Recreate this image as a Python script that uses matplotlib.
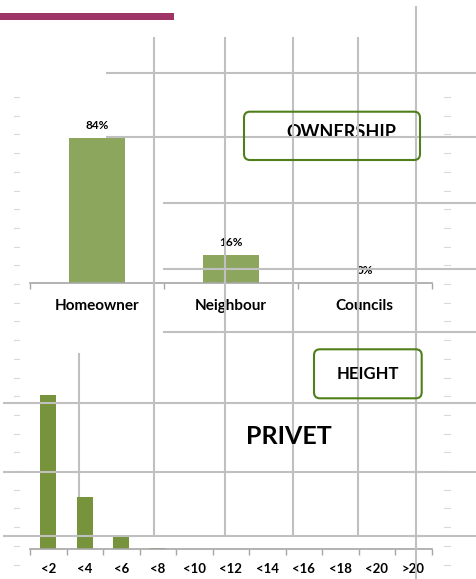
import numpy as np
import matplotlib
matplotlib.use("Agg")
import matplotlib.pyplot as plt
from matplotlib.patches import FancyBboxPatch, Rectangle

plt.rcParams['font.family'] = ['Lato', 'DejaVu Sans']

# Ownership chart (percent)
owners = ["Homeowner", "Neighbour", "Councils"]
owner_pct = [84, 16, 0]

# Privet height chart (percent of hedges per height band)
heights = ["<2", "<4", "<6", "<8", "<10", "<12", "<14", "<16", "<18", "<20", ">20"]
height_pct = [70.1, 23.6, 5.7, 0.6, 0, 0, 0, 0, 0, 0, 0]

W, H = 477, 579
fig = plt.figure(figsize=(W / 100, H / 100), dpi=100)
fig.patch.set_facecolor("white")

GRID = "#c0c0c0"
AXIS = "#a6a6a6"


def px_axes(x0, y0, x1, y1):
    """axes placed by pixel box (top-left origin)"""
    return fig.add_axes([x0 / W, 1 - y1 / H, (x1 - x0) / W, (y1 - y0) / H])


def style_cat_axis(ax, labels, pad, size):
    n = len(labels)
    ax.set_xlim(-0.5, n - 0.5)
    for s in ["top", "right", "left"]:
        ax.spines[s].set_visible(False)
    ax.spines["bottom"].set_color(AXIS)
    ax.spines["bottom"].set_linewidth(1.2)
    ax.set_yticks([])
    ax.set_xticks(range(n))
    ax.set_xticklabels(labels, fontsize=size, fontweight="bold")
    ax.set_xticks(np.arange(-0.5, n), minor=True)
    ax.tick_params(axis="x", which="major", length=0, pad=pad)
    ax.tick_params(axis="x", which="minor", length=4, color=AXIS, width=1)
    ax.set_facecolor("none")


# --- ownership bars
ax1 = px_axes(30, 97, 431.7, 282.7)
ax1.bar(range(len(owners)), owner_pct, width=0.42, color="#8da65e", zorder=2)
ax1.set_ylim(0, (282.7 - 97) / 1.72)
style_cat_axis(ax1, owners, 12, 11)
for i, v in enumerate(owner_pct):
    ax1.annotate(f"{v}%", (i, v), xytext=(0, 5), textcoords="offset points",
                 ha="center", va="bottom", fontsize=8.5, fontweight="bold")

# --- height bars
top2 = 345
ax2 = px_axes(30, top2, 431.7, 549.3)
ax2.bar(range(len(heights)), height_pct, width=0.44, color="#77933c", zorder=2)
ax2.set_ylim(0, (549.3 - top2) / 2.2)
style_cat_axis(ax2, heights, 10, 9.5)
# stray grid line that sits behind the <4 bar
ax2.axvline(0.84, ymax=(549.3 - 354) / (549.3 - top2), color=GRID, lw=1.5, zorder=1)

# --- overlay in pixel coordinates
ov = fig.add_axes([0, 0, 1, 1])
ov.set_xlim(0, W)
ov.set_ylim(H, 0)
ov.axis("off")
ov.patch.set_visible(False)

ov.add_patch(Rectangle((0, 13), 174, 7, color="#9e3566", lw=0))

# faint tick dashes on both margins
for yy in np.arange(97, 570, 18.7):
    ov.plot([14, 19], [yy, yy], color="#d9d9d9", lw=0.8)
    ov.plot([444, 450], [yy, yy], color="#d9d9d9", lw=0.8)

# ownership label box (text partly masked below the line)
ov.text(341, 133, "OWNERSHIP", ha="center", va="center", fontsize=13,
        fontweight="bold", zorder=1)
ov.add_patch(Rectangle((250, 137.5), 164, 12, color="white", lw=0, zorder=1.5))
ov.add_patch(FancyBboxPatch((244, 111.7), 176, 48.3, boxstyle="round,pad=0,rounding_size=6",
                            fill=False, ec="#4f7f1a", lw=1.5, zorder=3))

# grid lines
vlines = [(154, 37, 536), (225, 37, 536), (293, 37, 536), (358, 37, 536), (416, 6, 579)]
hlines = [(73, 106), (137, 106), (202.7, 163), (268.7, 163), (332, 163),
          (403, 3), (471.7, 3), (536, 3)]
for x, y0, y1 in vlines:
    ov.plot([x, x], [y0, y1], color=GRID, lw=1.5, zorder=2, solid_capstyle="butt")
for y, x0 in hlines:
    ov.plot([x0, W], [y, y], color=GRID, lw=1.5, zorder=2, solid_capstyle="butt")

ov.add_patch(FancyBboxPatch((314, 349.3), 107.7, 49, boxstyle="round,pad=0,rounding_size=6",
                            fill=False, ec="#4f7f1a", lw=1.5, zorder=3))
ov.text(368, 374, "HEIGHT", ha="center", va="center", fontsize=12,
        fontweight="bold", zorder=3)
ov.text(289, 437, "PRIVET", ha="center", va="center", fontsize=18,
        fontweight="bold", zorder=3)

fig.savefig("out.png", dpi=100)
